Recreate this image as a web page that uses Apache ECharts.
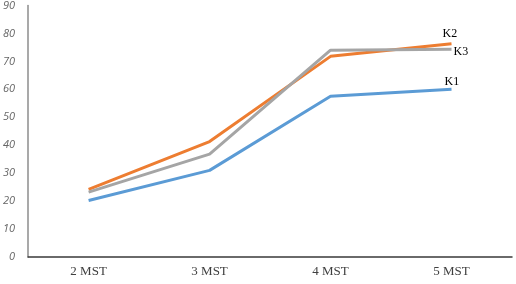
<!DOCTYPE html>
<html>
<head>
<meta charset="utf-8">
<script src="https://cdn.jsdelivr.net/npm/echarts@6/dist/echarts.min.js"></script>
<style>
html, body { margin: 0; padding: 0; background: #fff; }
#chart { width: 516px; height: 284px; }
</style>
</head>
<body>
<div id="chart"></div>
<script>
// data
const categories = ['2 MST', '3 MST', '4 MST', '5 MST']
const k1 = [20.2, 31, 57.5, 60]
const k2 = [24.2, 41.3, 71.8, 76.3]
const k3 = [23.2, 36.8, 74, 74.3]

const chart = echarts.init(document.getElementById('chart'))

function line (name, data, color, offset) {
  return {
    name: name,
    type: 'line',
    data: data,
    symbol: 'none',
    z: name === 'K3' ? 3 : 2,
    lineStyle: { color: color, width: 3 },
    endLabel: {
      show: true,
      formatter: name,
      color: '#000',
      fontFamily: 'Liberation Serif',
      fontSize: 12,
      offset: offset
    }
  }
}

chart.setOption({
  animation: false,
  backgroundColor: '#fff',
  grid: { left: 28, right: 4, top: 5, bottom: 27 },
  xAxis: {
    type: 'category',
    data: categories,
    boundaryGap: true,
    axisLine: { lineStyle: { color: '#3a3a3a', width: 1.5 } },
    axisTick: { show: false },
    axisLabel: {
      margin: 8,
      color: '#404040',
      fontFamily: 'Liberation Serif',
      fontSize: 13
    }
  },
  yAxis: {
    type: 'value',
    min: 0,
    max: 90,
    interval: 10,
    axisLine: { show: true, lineStyle: { color: '#8c8c8c', width: 1.5 } },
    axisTick: { show: false },
    splitLine: { show: false },
    axisLabel: {
      margin: 13,
      color: '#666',
      fontStyle: 'italic',
      fontFamily: 'Open Sans',
      fontSize: 11
    }
  },
  series: [
    line('K1', k1, '#5b9bd5', [-15, -7]),
    line('K2', k2, '#ed7d31', [-17, -10]),
    line('K3', k3, '#a5a5a5', [-6, 2])
  ]
})
</script>
</body>
</html>
